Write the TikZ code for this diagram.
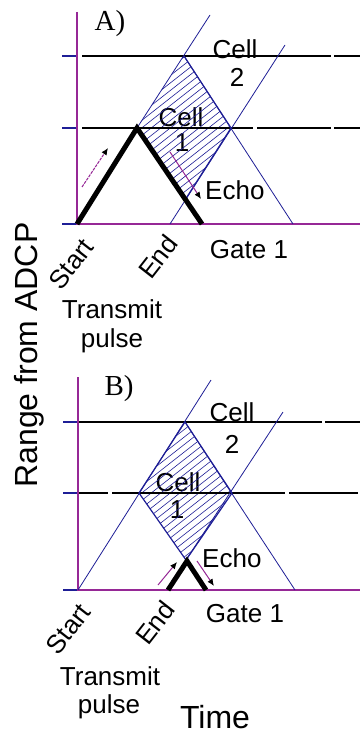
\documentclass[tikz,border=0pt]{standalone}
\usepackage{fontspec}
\setmainfont{Liberation Sans}
\newfontfamily\panelfont{Liberation Serif}
\usetikzlibrary{arrows.meta}
\definecolor{axpurple}{RGB}{150,40,150}
\definecolor{lineblue}{RGB}{30,30,150}
\tikzset{
 axisline/.style={axpurple, line width=1.2pt},
 tickline/.style={lineblue, line width=1.2pt},
 rangeline/.style={black, line width=1.1pt},
 ray/.style={lineblue, line width=0.8pt},
 cellbox/.style={lineblue, line width=1.2pt},
 hatchline/.style={lineblue, line width=0.6pt},
 pulseline/.style={black, line width=5pt, line join=miter},
 motion/.style={axpurple, line width=1pt, -{Latex[length=7pt,width=6pt,black]}},
 lbl/.style={font=\fontsize{26}{28}\selectfont, inner sep=0pt, anchor=base},
 biglbl/.style={font=\fontsize{32}{34}\selectfont, inner sep=0pt, anchor=base},
 panellbl/.style={font=\panelfont\fontsize{29}{31}\selectfont, inner sep=0pt, anchor=base},
 rotlbl/.style={font=\fontsize{26}{28}\selectfont, inner sep=0pt, rotate=52, anchor=center},
}
\begin{document}
\begin{tikzpicture}[x=1pt,y=-1pt]
\useasboundingbox[fill=white] (0,0) rectangle (360,735);

% ================= Panel A =================
\node[panellbl] (pa) at (110,31) {A)};
\node[lbl] (ac2a) at (235,59) {Cell};
\node[lbl] (ac2b) at (237,87) {2};
\node[lbl] (ac1a) at (181,127) {Cell};
\node[lbl] (ac1b) at (182,152) {1};
\node[lbl, anchor=base west] (aecho) at (205,200) {Echo};
\node[lbl] (agate) at (249,258) {Gate 1};
\node[rotlbl] (astart) at (71,264) {Start};
\node[rotlbl] (aend) at (158,257) {End};
\node[lbl] (atr1) at (112,318) {Transmit};
\node[lbl] (atr2) at (112,347) {pulse};

\coordinate (aP) at (137,128);
\coordinate (aT) at (184,56);
\coordinate (aR) at (231,128);
\coordinate (aB) at (185,200);

\begin{scope}
\clip (aP) -- (aT) -- (aR) -- (aB) -- cycle;
\foreach \i in {0,...,45} {
  \draw[hatchline] (120,40+\i*7.5) -- ++(140,-110);
}
\end{scope}

\draw[tickline] (62,56) -- (77,56);
\draw[tickline] (62,128) -- (77,128);
\draw[tickline] (62,224) -- (77,224);
\draw[rangeline] (82,56) -- (331,56) (334,56) -- (360,56);
\draw[rangeline] (82,128) -- (253,128) (257,128) -- (331,128) (334,128) -- (360,128);
\draw[axisline] (77,12) -- (77,224) -- (360,224);

\coordinate (aAtop) at (210,15);
\coordinate (aBbase) at (170,224);
\coordinate (aBtop) at (285,45);
\coordinate (aDbase) at (293,224);
\draw[ray] (aP) -- (aAtop);
\draw[ray] (aBbase) -- (aBtop);
\draw[ray] (aT) -- (aDbase);
\draw[cellbox] (aT) -- (aR) -- (aB);

\coordinate (aS) at (77,224);
\coordinate (aE) at (202,224);
\draw[pulseline] (aS) -- (aP) -- (aE);

\coordinate (am1) at (82,187);
\coordinate (am2) at (108,148);
\coordinate (am3) at (170,152);
\coordinate (am4) at (201,199);
\draw[motion, dash pattern=on 3pt off 1pt] (am1) -- (am2);
\draw[motion] (am3) -- (am4);

% ================= Panel B =================
\node[panellbl] (pb) at (119,395) {B)};
\node[lbl] (bc2a) at (232,421) {Cell};
\node[lbl] (bc2b) at (232,453) {2};
\node[lbl] (bc1a) at (178,491) {Cell};
\node[lbl] (bc1b) at (177,518) {1};
\node[lbl, anchor=base west] (becho) at (202,567) {Echo};
\node[lbl] (bgate) at (245,622) {Gate 1};
\node[rotlbl] (bstart) at (68,629) {Start};
\node[rotlbl] (bend) at (155,623) {End};
\node[lbl] (btr1) at (110,685) {Transmit};
\node[lbl] (btr2) at (109,713) {pulse};
\node[biglbl] (btime) at (215,728) {Time};
\node[biglbl, rotate=90] (range) at (37,355) {Range from ADCP};

\coordinate (bL) at (139,493);
\coordinate (bT) at (185,422);
\coordinate (bR) at (232,493);
\coordinate (bB) at (186,560);

\begin{scope}
\clip (bL) -- (bT) -- (bR) -- (bB) -- cycle;
\foreach \i in {0,...,45} {
  \draw[hatchline] (120,405+\i*7.5) -- ++(140,-110);
}
\end{scope}

\draw[tickline] (63,422) -- (78,422);
\draw[tickline] (63,493) -- (78,493);
\draw[tickline] (63,590) -- (78,590);
\draw[rangeline] (78,422) -- (322,422) (325,422) -- (360,422);
\draw[rangeline] (78,493) -- (108,493) (112,493) -- (285,493) (289,493) -- (358,493);
\draw[axisline] (78,377) -- (78,590) -- (360,590);

\coordinate (bS) at (78,590);
\coordinate (bAtop) at (211,380);
\coordinate (bBtop) at (283,412);
\coordinate (bDbase) at (295,590);
\draw[ray] (bS) -- (bAtop);
\draw[ray] (bB) -- (bBtop);
\draw[ray] (bT) -- (bDbase);
\draw[cellbox] (bL) -- (bT) -- (bR) -- (bB) -- cycle;

\coordinate (bp1) at (168,590);
\coordinate (bp2) at (187,561);
\coordinate (bp3) at (206,590);
\draw[pulseline] (bp1) -- (bp2) -- (bp3);

\coordinate (bm1) at (158,585);
\coordinate (bm2) at (177,562);
\coordinate (bm3) at (197,561);
\coordinate (bm4) at (214,586);
\draw[motion] (bm1) -- (bm2);
\draw[motion] (bm3) -- (bm4);
\end{tikzpicture}
\end{document}
